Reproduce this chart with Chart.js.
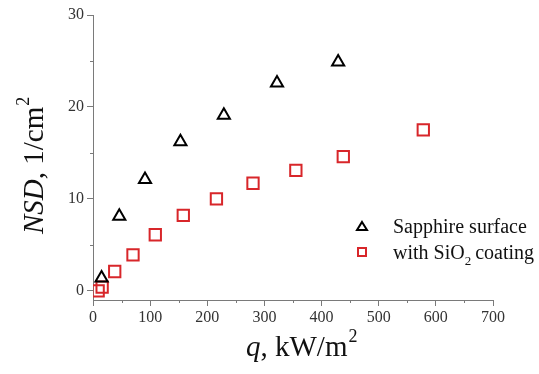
<!DOCTYPE html>
<html>
<head>
<meta charset="utf-8">
<script src="https://cdn.jsdelivr.net/npm/chart.js@4"></script>
<style>
  html, body { margin: 0; padding: 0; background: #fff; }
  #wrap { width: 539px; height: 374px; }
</style>
</head>
<body>
<div id="wrap"><canvas id="nsdChart" width="539" height="374"></canvas></div>
<script>
// heat flux q, kW/m2 and NSD, 1/cm2
const sapphireQ = [15, 46, 91, 153, 229, 322, 429];
const sapphireNSD = [1.4, 8.1, 12.1, 16.2, 19.1, 22.6, 24.9];
const coatingQ = [9, 16, 38, 70, 109, 158, 216, 280, 355, 438, 578];
const coatingNSD = [0.0, 0.4, 2.1, 3.9, 6.1, 8.2, 10.0, 11.7, 13.1, 14.6, 17.5];
const seriesNames = ['Sapphire surface', 'with SiO\u2082 coating'];
const xTicks = [0, 100, 200, 300, 400, 500, 600, 700];
const yTicks = [0, 10, 20, 30];

const red = '#d8262a';
const axisColor = '#7a7a7a';
const serif = '"Liberation Serif", "Times New Roman", serif';

const toPoints = (xs, ys) => xs.map((x, i) => ({ x: x, y: ys[i] }));

// minor ticks, axis titles with italics/superscripts, and the legend
const extras = {
    id: 'extras',
    afterDraw(chart) {
        const ctx = chart.ctx;
        const xs = chart.scales.x;
        const ys = chart.scales.y;
        const area = chart.chartArea;
        ctx.save();
        ctx.strokeStyle = axisColor;
        ctx.lineWidth = 1;
        ctx.beginPath();
        for (let v = 50; v < 700; v += 100) {
            const px = Math.round(xs.getPixelForValue(v)) + 0.5;
            ctx.moveTo(px, area.bottom);
            ctx.lineTo(px, area.bottom + 3);
        }
        for (let v = 5; v < 30; v += 10) {
            const py = Math.round(ys.getPixelForValue(v)) + 0.5;
            ctx.moveTo(area.left, py);
            ctx.lineTo(area.left - 3, py);
        }
        ctx.stroke();

        // x title
        ctx.fillStyle = '#111';
        ctx.textBaseline = 'alphabetic';
        ctx.textAlign = 'left';
        let x = 246;
        const xb = 356;
        ctx.font = 'italic 29px ' + serif;
        ctx.fillText('q', x, xb);
        x += ctx.measureText('q').width;
        ctx.font = '29px ' + serif;
        ctx.fillText(', kW/m', x, xb);
        x += ctx.measureText(', kW/m').width;
        ctx.font = '18px ' + serif;
        ctx.fillText('2', x + 1, xb - 14);

        // y title, rotated
        ctx.save();
        ctx.translate(43, 234);
        ctx.rotate(-Math.PI / 2);
        let y = 0;
        ctx.font = 'italic 29px ' + serif;
        ctx.fillText('NSD', y, 0);
        y += ctx.measureText('NSD').width;
        ctx.font = '29px ' + serif;
        ctx.fillText(', 1/cm', y, 0);
        y += ctx.measureText(', 1/cm').width;
        ctx.font = '18px ' + serif;
        ctx.fillText('2', y + 1, -14);
        ctx.restore();

        // legend
        ctx.lineWidth = 2;
        ctx.strokeStyle = '#000';
        ctx.beginPath();
        ctx.moveTo(362, 222);
        ctx.lineTo(367, 230);
        ctx.lineTo(357, 230);
        ctx.closePath();
        ctx.stroke();
        ctx.strokeStyle = red;
        ctx.strokeRect(358, 248, 8, 8);
        ctx.fillStyle = '#111';
        ctx.font = '20px ' + serif;
        ctx.fillText(seriesNames[0], 393, 233);
        ctx.fillText('with SiO', 393, 259);
        let lx = 393 + ctx.measureText('with SiO').width;
        ctx.font = '13px ' + serif;
        ctx.fillText('2', lx, 265);
        lx += ctx.measureText('2').width + 4;
        ctx.font = '20px ' + serif;
        ctx.fillText('coating', lx, 259);
        ctx.restore();
    }
};

new Chart(document.getElementById('nsdChart'), {
    type: 'scatter',
    data: {
        datasets: [{
            label: seriesNames[0],
            data: toPoints(sapphireQ, sapphireNSD),
            pointStyle: 'triangle',
            pointRadius: 7,
            pointBorderWidth: 2,
            borderColor: '#000',
            backgroundColor: 'rgba(0,0,0,0)'
        }, {
            label: seriesNames[1],
            data: toPoints(coatingQ, coatingNSD),
            pointStyle: 'rect',
            pointRadius: 8,
            pointBorderWidth: 2,
            borderColor: red,
            backgroundColor: 'rgba(0,0,0,0)'
        }]
    },
    options: {
        responsive: false,
        animation: false,
        layout: { padding: { top: 15, right: 46, left: 0, bottom: 0 } },
        plugins: {
            legend: { display: false },
            tooltip: { enabled: false }
        },
        scales: {
            x: {
                min: 0,
                max: 700,
                afterBuildTicks: scale => { scale.ticks = xTicks.map(v => ({ value: v })); },
                afterFit: scale => { scale.height = 74; },
                border: { color: axisColor, width: 1 },
                grid: { drawOnChartArea: false, drawTicks: true, tickLength: 6, color: axisColor },
                ticks: { color: '#333', font: { family: serif, size: 16 }, padding: 2, maxRotation: 0 }
            },
            y: {
                min: -1,
                max: 30,
                afterBuildTicks: scale => { scale.ticks = yTicks.map(v => ({ value: v })); },
                afterFit: scale => { scale.width = 93; },
                border: { color: axisColor, width: 1 },
                grid: { drawOnChartArea: false, drawTicks: true, tickLength: 6, color: axisColor },
                ticks: { color: '#333', font: { family: serif, size: 16 }, padding: 3 }
            }
        }
    },
    plugins: [extras]
});
</script>
</body>
</html>
